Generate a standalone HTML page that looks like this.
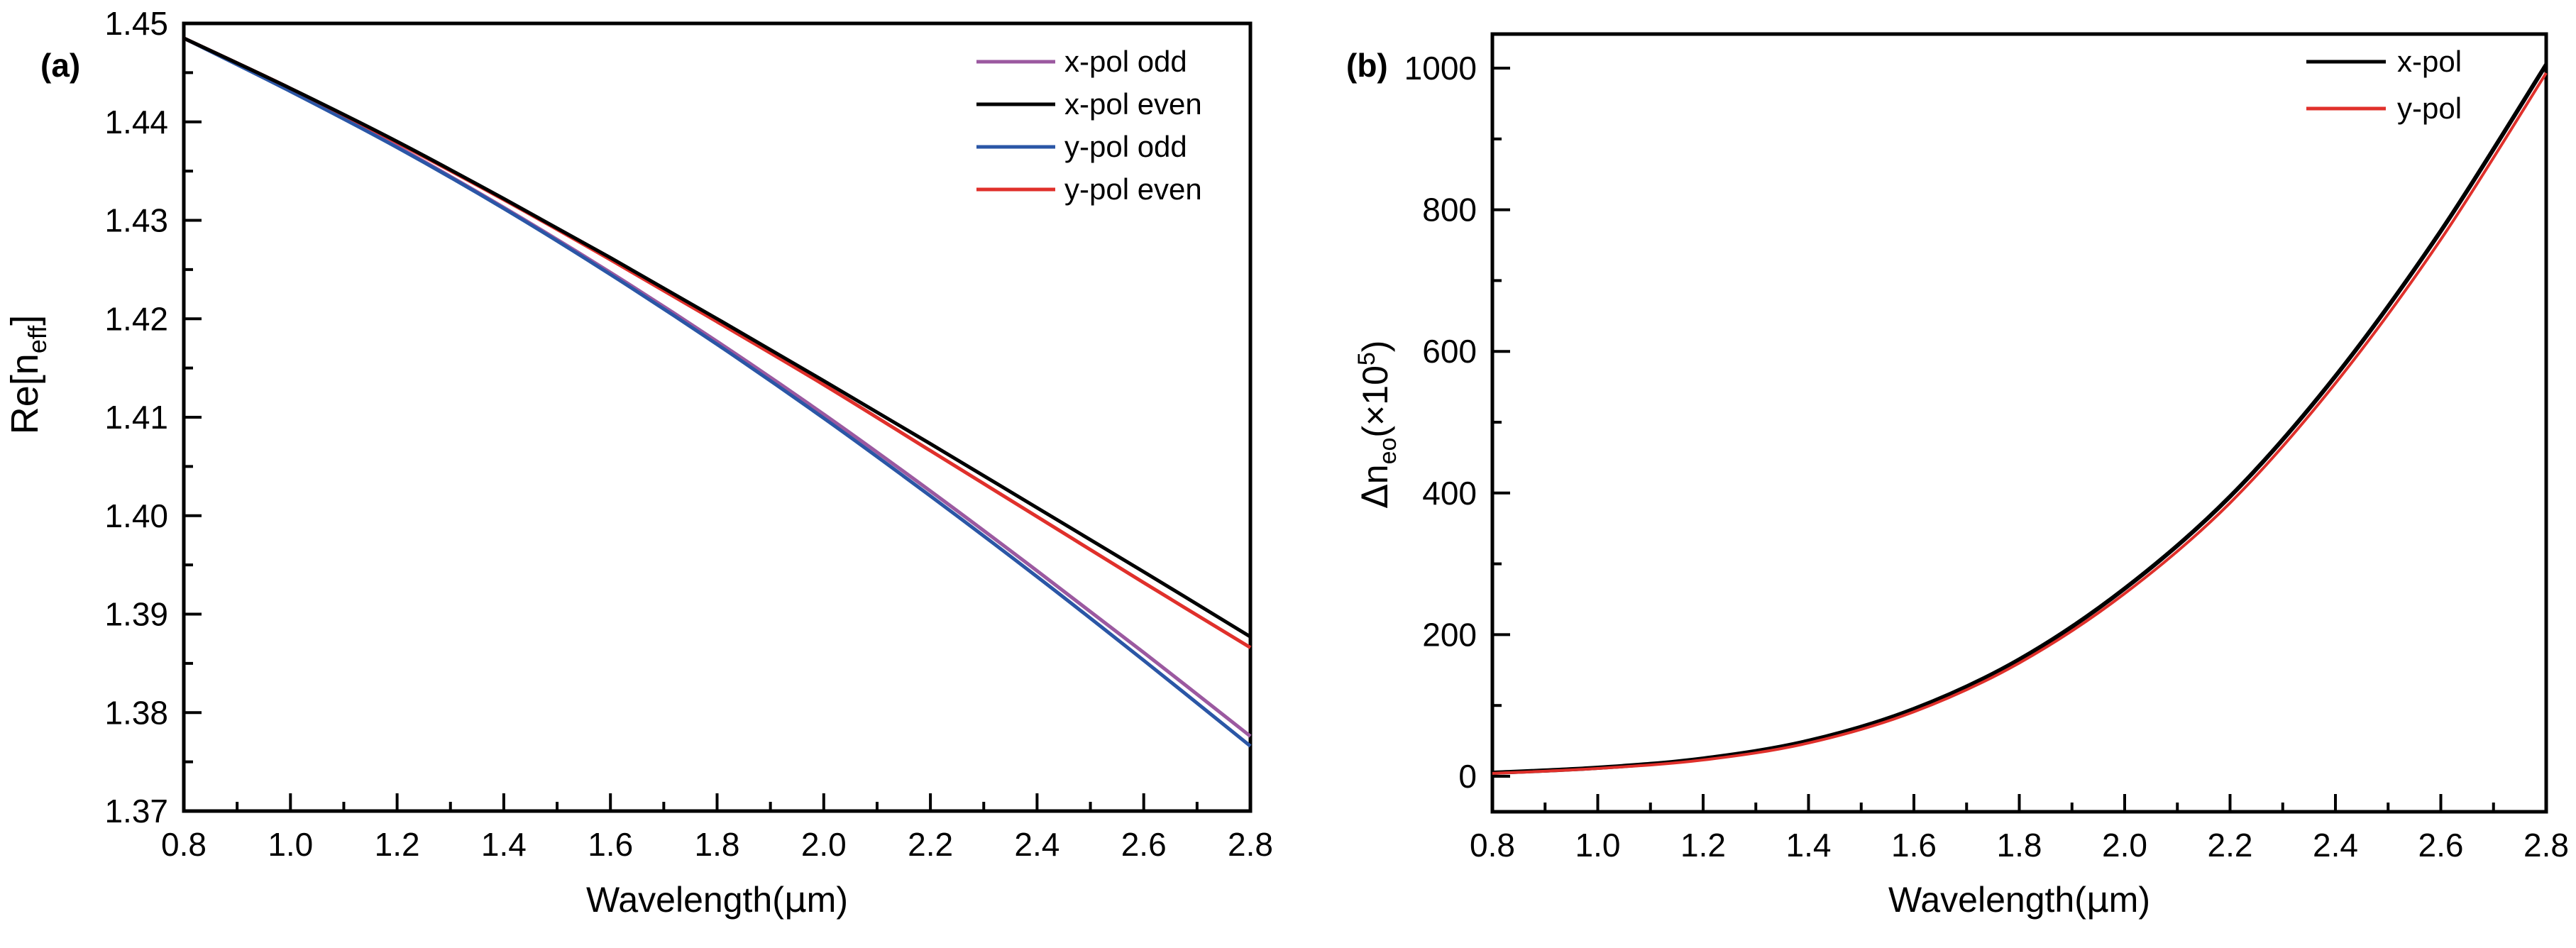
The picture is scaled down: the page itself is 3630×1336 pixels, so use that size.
<!DOCTYPE html>
<html><head><meta charset="utf-8"><style>
html,body{margin:0;padding:0;background:#fff;}
svg text{font-family:"Liberation Sans",Arial,sans-serif;}
</style></head><body>
<svg id="fig" width="3630" height="1331" viewBox="0 0 3630 1331" xmlns="http://www.w3.org/2000/svg">
<g id="pa"></g>
<g id="pb"></g>
</svg>
<script>
const wl = [0.8,1.0,1.2,1.4,1.6,1.8,2.0,2.2,2.4,2.6,2.8];
const xPolOdd  = [1.4485,1.4432,1.4375,1.4313,1.4247,1.4177,1.4103,1.4025,1.3944,1.3861,1.3776];
const xPolEven = [1.4485,1.4434,1.4380,1.4322,1.4262,1.4200,1.4137,1.4073,1.4008,1.3943,1.3877];
const yPolOdd  = [1.4485,1.4431,1.4374,1.4312,1.4245,1.4174,1.4099,1.4020,1.3938,1.3853,1.3766];
const yPolEven = [1.4485,1.4434,1.4379,1.4321,1.4260,1.4197,1.4133,1.4066,1.3999,1.3932,1.3866];
const dnX = [5,12,25,50,95,165,265,395,565,770,1005];
const dnY = [4,11,23,47,91,160,258,386,555,758,993];
const xTicks = ["0.8","1.0","1.2","1.4","1.6","1.8","2.0","2.2","2.4","2.6","2.8"];
const aYTicks = ["1.37","1.38","1.39","1.40","1.41","1.42","1.43","1.44","1.45"];
const bYTicks = ["0","200","400","600","800","1000"];

const NS="http://www.w3.org/2000/svg";
function mk(parent,tag,attrs){const e=document.createElementNS(NS,tag);for(const k in attrs)e.setAttribute(k,attrs[k]);parent.appendChild(e);return e;}
function path(xs,ys,X,Y){
  const p=xs.map((x,i)=>[X(x),Y(ys[i])]);
  let d="M"+p[0][0]+","+p[0][1];
  for(let i=0;i<p.length-1;i++){
    const p0=p[Math.max(0,i-1)],p1=p[i],p2=p[i+1],p3=p[Math.min(p.length-1,i+2)];
    const c1=[p1[0]+(p2[0]-p0[0])/6,p1[1]+(p2[1]-p0[1])/6];
    const c2=[p2[0]-(p3[0]-p1[0])/6,p2[1]-(p3[1]-p1[1])/6];
    d+=" C"+c1+" "+c2+" "+p2;
  }
  return d;
}
function frame(g,L,T,R,B,X,Y,yTickVals,yMinorVals,yLabels){
  const ax=mk(g,"rect",{x:L,y:T,width:R-L,height:B-T,fill:"none",stroke:"#000","stroke-width":5});
  
  
  for(let v=0.8;v<=2.801;v+=0.1){
    const major=Math.abs(Math.round(v*10)%2)===0;
    const t=mk(g,"line",{x1:X(v),x2:X(v),y1:B,y2:B-(major?25:13),stroke:"#000","stroke-width":4});
    
    
  }
  xTicks.forEach(s=>{
    const t=mk(g,"text",{x:X(+s),y:B+63,"font-size":46,"text-anchor":"middle"});t.textContent=s;
    
    
  });
  yMinorVals.forEach(v=>{
    const t=mk(g,"line",{x1:L,x2:L+13,y1:Y(v),y2:Y(v),stroke:"#000","stroke-width":4});
    
    
  });
  yLabels.forEach(s=>{
    const v=+s;
    const t=mk(g,"line",{x1:L,x2:L+25,y1:Y(v),y2:Y(v),stroke:"#000","stroke-width":4});
    
    
    const l=mk(g,"text",{x:L-22,y:Y(v)+16,"font-size":46,"text-anchor":"end"});l.textContent=s;
    
    
  });
  const xt=mk(g,"text",{x:(L+R)/2,y:1285,"font-size":50,"text-anchor":"middle"});
  xt.innerHTML='Wavelength(<tspan font-family="DejaVu Sans">μ</tspan>m)';
  
  
}
function legend(g,items,x1,x2,tx,y0,dy,fs){
  items.forEach((it,i)=>{
    const y=y0+i*dy;
    const l=mk(g,"line",{x1:x1,x2:x2,y1:y,y2:y,stroke:it[1],"stroke-width":5});
    
    
    const t=mk(g,"text",{x:tx,y:y+14,"font-size":fs});t.textContent=it[0];
    
    
  });
}
// Panel A
(function(){
  const g=document.getElementById('pa');
  const L=259,R=1762,T=33,B=1143;
  const X=v=>L+(v-0.8)/2.0*(R-L);
  const Y=v=>T+(1.45-v)/0.08*(B-T);
  const minors=[];for(let i=0;i<8;i++)minors.push(1.375+i*0.01);
  frame(g,L,T,R,B,X,Y,null,minors,aYTicks);
  const series=[[xPolOdd,"#9b59a0","x-pol-odd-line"],[yPolOdd,"#2a56a6","y-pol-odd-line"],[yPolEven,"#e0302b","y-pol-even-line"],[xPolEven,"#000","x-pol-even-line"]];
  series.forEach(s=>{
    const p=mk(g,"path",{d:path(wl,s[0],X,Y),fill:"none",stroke:s[1],"stroke-width":5});
    
    
  });
  legend(g,[["x-pol odd","#9b59a0"],["x-pol even","#000"],["y-pol odd","#2a56a6"],["y-pol even","#e0302b"]],1376,1487,1500,87,60,42);
  const pl=mk(g,"text",{x:57,y:108,"font-size":46,"font-weight":"bold"});pl.textContent="(a)";
  
  
  const yt=mk(g,"text",{x:0,y:0,"font-size":54,"text-anchor":"middle",transform:"translate(53,528) rotate(-90)"});
  yt.innerHTML='Re[n<tspan font-size="36" dy="12">eff</tspan><tspan dy="-12">]</tspan>';
  
  
})();
// Panel B
(function(){
  const g=document.getElementById('pb');
  const L=2103,R=3588,T=48,B=1144;
  const X=v=>L+(v-0.8)/2.0*(R-L);
  const Y=v=>1094-v*0.998;
  const minors=[100,300,500,700,900];
  frame(g,L,T,R,B,X,Y,null,minors,bYTicks);
  [[dnX,"#000","x-pol-line"],[dnY,"#e0302b","y-pol-line"]].forEach((s,i)=>{
    const p=mk(g,"path",{d:path(wl,s[0],X,Y),fill:"none",stroke:s[1],"stroke-width":i?4:6});
    
    
  });
  legend(g,[["x-pol","#000"],["y-pol","#e0302b"]],3250,3362,3378,87,66,42);
  const pl=mk(g,"text",{x:1897,y:108,"font-size":46,"font-weight":"bold"});pl.textContent="(b)";
  
  
  const yt=mk(g,"text",{x:0,y:0,"font-size":50,"text-anchor":"middle",transform:"translate(1955,598) rotate(-90)"});
  yt.innerHTML='<tspan font-family="DejaVu Sans">Δ</tspan>n<tspan font-size="34" dy="12">eo</tspan><tspan dy="-12">(×10</tspan><tspan font-size="34" dy="-18">5</tspan><tspan dy="18">)</tspan>';
  
  
})();
</script>
</body></html>
